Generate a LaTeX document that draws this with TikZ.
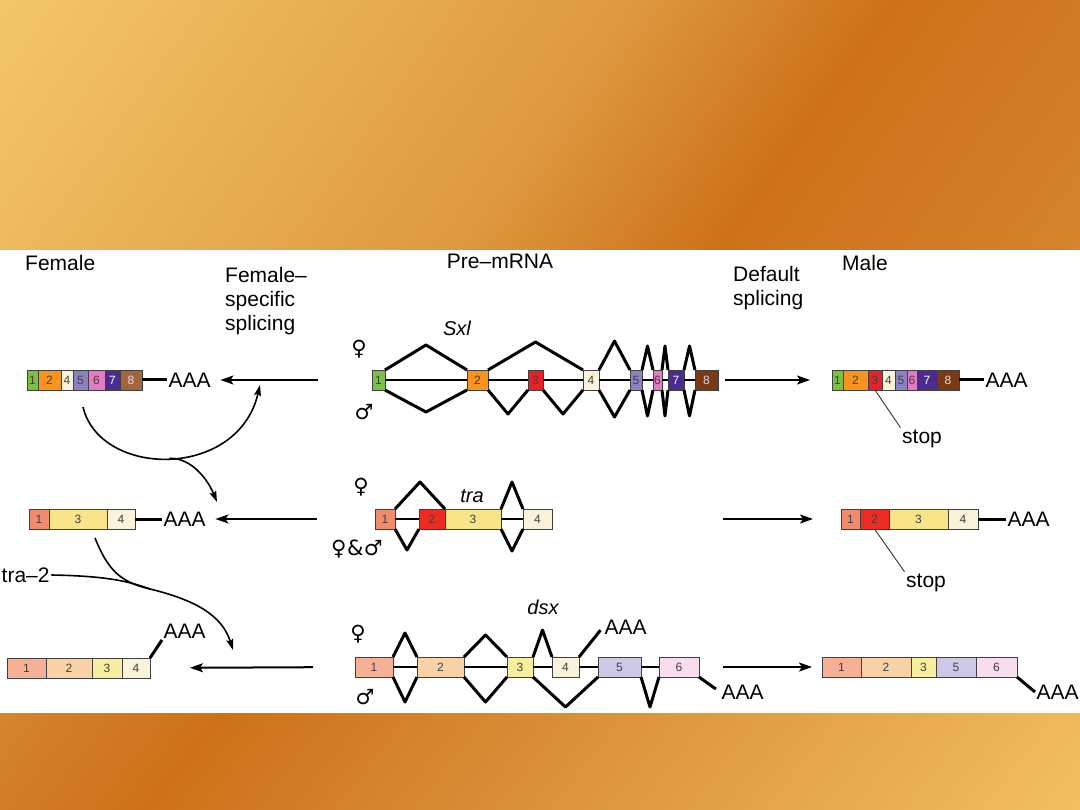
\documentclass[tikz,border=0pt]{standalone}
\usepackage{fontspec}
\setmainfont{Liberation Sans}
\newfontfamily\symfont{DejaVu Sans}
\usetikzlibrary{arrows.meta, positioning, calc}

\definecolor{bandlight}{HTML}{F4C76B}
\definecolor{bandmid}{HTML}{DE993F}
\definecolor{banddark}{HTML}{CD7119}
\definecolor{bandend}{HTML}{D5842E}
\definecolor{bandlow}{HTML}{DA8F38}
\definecolor{bandpale}{HTML}{F2BF60}
\definecolor{sxlgreen}{HTML}{7CC043}
\definecolor{sxlorange}{HTML}{F7931E}
\definecolor{sxlred}{HTML}{E8202A}
\definecolor{excream}{HTML}{FBF2DA}
\definecolor{sxllav}{HTML}{8B80C6}
\definecolor{sxlpink}{HTML}{E47BC2}
\definecolor{sxlpurple}{HTML}{4A2B8F}
\definecolor{sxlbrown}{HTML}{7A3A16}
\definecolor{sxlbrownlt}{HTML}{A2653F}
\definecolor{trasalmon}{HTML}{F28A6C}
\definecolor{trared}{HTML}{EC2B22}
\definecolor{trayellow}{HTML}{F9E48A}
\definecolor{dsxone}{HTML}{F6B095}
\definecolor{dsxtwo}{HTML}{F9D2A8}
\definecolor{dsxthree}{HTML}{F8EEA0}
\definecolor{dsxfive}{HTML}{CEC8E6}
\definecolor{dsxsix}{HTML}{F8DDEE}

\pgfdeclarehorizontalshading{topband}{100bp}{color(0bp)=(bandlight); color(26bp)=(bandlight); color(50bp)=(bandmid); color(60bp)=(banddark); color(74bp)=(bandend); color(100bp)=(bandend)}
\pgfdeclarehorizontalshading{lowband}{100bp}{color(0bp)=(bandend); color(29bp)=(bandend); color(37bp)=(banddark); color(50bp)=(bandlow); color(71bp)=(bandpale); color(100bp)=(bandpale)}

\begin{document}
\begin{tikzpicture}[x=1pt, y=-1pt,
  exon/.style={draw=black!75, line width=0.9pt, minimum height=20pt, inner sep=0pt,
               outer sep=0pt, font=\fontsize{12}{12}\selectfont, text=black!75},
  lbl/.style={font=\fontsize{21}{24}\selectfont, inner sep=1.5pt},
  gene/.style={font=\fontsize{20}{24}\selectfont\itshape, inner sep=1.5pt},
  sex/.style={font=\symfont\fontsize{21}{24}\selectfont, inner sep=0pt},
  intron/.style={line width=1.3pt},
  splice/.style={line width=3pt, line join=round},
  tail/.style={line width=3pt},
  flow/.style={line width=2pt, -{Stealth[length=13pt, width=9pt, inset=3pt]}},
  curve/.style={line width=1.6pt},
  feed/.style={curve, -{Stealth[length=11pt, width=7pt, inset=2pt]}},
  pointer/.style={line width=0.9pt, black!80}]

  \useasboundingbox (0,0) rectangle (1080,810);

  % slide background
  \begin{scope}
    \clip (0,0) rectangle (1080,250);
    \shade[shading=topband, shading angle=-35.4] (0,-415) rectangle (1080,665);
  \end{scope}
  \begin{scope}
    \clip (0,713) rectangle (1080,810);
    \shade[shading=lowband, shading angle=-38.1] (0,221.5) rectangle (1080,1301.5);
  \end{scope}
  \fill[white] (0,250) rectangle (1080,713);

  % column heads
  \node[lbl, anchor=base west] (female) at (23.5,271) {Female};
  \node[lbl, anchor=north west, align=left] (fsplice) at (223.5,266) {Female--\\specific\\splicing};
  \node[lbl, anchor=base] (premrna) at (500,269) {Pre--mRNA};
  \node[lbl, anchor=north west, align=left] (dsplice) at (731.5,265) {Default\\splicing};
  \node[lbl, anchor=base west] (male) at (840.5,271) {Male};

  % Sxl pre-mRNA
  \node[gene, anchor=base] (sxl) at (457,336) {Sxl};
  \node[sex] (sxlf) at (359,349) {♀};
  \node[sex] (sxlm) at (364,412) {♂};
  \node[exon, fill=sxlgreen, minimum width=13pt, anchor=west] (sp1) at (372,380) {1};
  \node[exon, fill=sxlorange, minimum width=21pt, right=82pt of sp1] (sp2) {2};
  \node[exon, fill=sxlred, minimum width=15pt, right=40pt of sp2] (sp3) {3};
  \node[exon, fill=excream, minimum width=16pt, right=40pt of sp3] (sp4) {4};
  \node[exon, fill=sxllav, minimum width=12pt, right=31pt of sp4] (sp5) {5};
  \node[exon, fill=sxlpink, minimum width=9pt, right=11pt of sp5] (sp6) {6};
  \node[exon, fill=sxlpurple, text=white, minimum width=16pt, right=6pt of sp6] (sp7) {7};
  \node[exon, fill=sxlbrown, text=white!85!black, minimum width=23pt, right=11pt of sp7] (sp8) {8};

  \draw[intron] (sp1.east) -- (sp2.west);
  \draw[intron] (sp2.east) -- (sp3.west);
  \draw[intron] (sp3.east) -- (sp4.west);
  \draw[intron] (sp4.east) -- (sp5.west);
  \draw[intron] (sp5.east) -- (sp6.west);
  \draw[intron] (sp6.east) -- (sp7.west);
  \draw[intron] (sp7.east) -- (sp8.west);

  \draw[splice] (sp1.north east) -- ++(41,-25) -- (sp2.north west);
  \draw[splice] (sp2.north east) -- ++(47.5,-28) -- (sp4.north west);
  \draw[splice] (sp4.north east) -- ++(15.5,-29) -- (sp5.north west);
  \draw[splice] (sp5.north east) -- ++(5.5,-24) -- (sp6.north west);
  \draw[splice] (sp6.north east) -- ++(3,-24) -- (sp7.north west);
  \draw[splice] (sp7.north east) -- ++(5.5,-24) -- (sp8.north west);
  \draw[splice] (sp1.south east) -- ++(41,22) -- (sp2.south west);
  \draw[splice] (sp2.south east) -- ++(20,24) -- (sp3.south west);
  \draw[splice] (sp3.south east) -- ++(20,24) -- (sp4.south west);
  \draw[splice] (sp4.south east) -- ++(15.5,27) -- (sp5.south west);
  \draw[splice] (sp5.south east) -- ++(5.5,26) -- (sp6.south west);
  \draw[splice] (sp6.south east) -- ++(3,26) -- (sp7.south west);
  \draw[splice] (sp7.south east) -- ++(5.5,26) -- (sp8.south west);

  % Sxl female mRNA
  \node[exon, fill=sxlgreen, minimum width=11pt, anchor=west] (sf1) at (27,380) {1};
  \node[exon, fill=sxlorange, minimum width=23pt, right=0pt of sf1] (sf2) {2};
  \node[exon, fill=excream, minimum width=12pt, right=0pt of sf2] (sf4) {4};
  \node[exon, fill=sxllav, minimum width=15pt, right=0pt of sf4] (sf5) {5};
  \node[exon, fill=sxlpink, minimum width=17pt, right=0pt of sf5] (sf6) {6};
  \node[exon, fill=sxlpurple, text=white, minimum width=15pt, right=0pt of sf6] (sf7) {7};
  \node[exon, fill=sxlbrownlt, text=white!85!black, minimum width=22pt, right=0pt of sf7] (sf8) {8};
  \node[lbl, anchor=west] (sfa) at (167,380) {AAA};
  \draw[tail] (sf8.east) -- (sfa.west);

  % Sxl male mRNA
  \node[exon, fill=sxlgreen, minimum width=11pt, anchor=west] (sm1) at (832,380) {1};
  \node[exon, fill=sxlorange, minimum width=25pt, right=0pt of sm1] (sm2) {2};
  \node[exon, fill=sxlred, minimum width=14pt, right=0pt of sm2] (sm3) {3};
  \node[exon, fill=excream, minimum width=13pt, right=0pt of sm3] (sm4) {4};
  \node[exon, fill=sxllav, minimum width=12pt, right=0pt of sm4] (sm5) {5};
  \node[exon, fill=sxlpink, minimum width=10pt, right=0pt of sm5] (sm6) {6};
  \node[exon, fill=sxlpurple, text=white, minimum width=20pt, right=0pt of sm6] (sm7) {7};
  \node[exon, fill=sxlbrown, text=white!85!black, minimum width=22pt, right=0pt of sm7] (sm8) {8};
  \node[lbl, anchor=west] (sma) at (984,380) {AAA};
  \draw[tail] (sm8.east) -- (sma.west);
  \node[lbl, anchor=base west] (stop1) at (900.5,443) {stop};
  \draw[pointer] (sm3.south) -- (stop1.north west);

  \draw[flow, shorten <=54pt, shorten >=8pt] (sp1.west) -- (sfa.east);
  \draw[flow, shorten <=7pt, shorten >=22pt] (sp8.east) -- (sm1.west);

  % tra pre-mRNA
  \node[gene, anchor=base] (tra) at (472,502) {tra};
  \node[sex] (traf) at (361,487) {♀};
  \node[sex] (trafm) at (357,549) {♀\kern0.5pt\&\kern0.5pt♂};
  \node[exon, fill=trasalmon, minimum width=20pt, anchor=west] (tp1) at (375,519) {1};
  \node[exon, fill=trared, minimum width=26pt, right=24pt of tp1] (tp2) {2};
  \node[exon, fill=trayellow, minimum width=56pt, right=0pt of tp2] (tp3) {3};
  \node[exon, fill=excream, minimum width=29pt, right=22pt of tp3] (tp4) {4};

  \draw[intron] (tp1.east) -- (tp2.west);
  \draw[intron] (tp3.east) -- (tp4.west);

  \draw[splice] (tp1.north east) -- ++(25,-27) -- (tp3.north west);
  \draw[splice] (tp3.north east) -- ++(11,-27) -- (tp4.north west);
  \draw[splice] (tp1.south east) -- ++(12,21) -- (tp2.south west);
  \draw[splice] (tp3.south east) -- ++(11,22) -- (tp4.south west);

  % tra female mRNA
  \node[exon, fill=trasalmon, minimum width=20pt, anchor=west] (tf1) at (29,519) {1};
  \node[exon, fill=trayellow, minimum width=58pt, right=0pt of tf1] (tf3) {3};
  \node[exon, fill=excream, minimum width=28pt, right=0pt of tf3] (tf4) {4};
  \node[lbl, anchor=west] (tfa) at (162,519) {AAA};
  \draw[tail] (tf4.east) -- (tfa.west);

  % tra male mRNA
  \node[exon, fill=trasalmon, minimum width=19pt, anchor=west] (tm1) at (841,519) {1};
  \node[exon, fill=trared, minimum width=29pt, right=0pt of tm1] (tm2) {2};
  \node[exon, fill=trayellow, minimum width=59pt, right=0pt of tm2] (tm3) {3};
  \node[exon, fill=excream, minimum width=30pt, right=0pt of tm3] (tm4) {4};
  \node[lbl, anchor=west] (tma) at (1006,519) {AAA};
  \draw[tail] (tm4.east) -- (tma.west);
  \node[lbl, anchor=base west] (stop2) at (904.5,587) {stop};
  \draw[pointer] (tm2.south) -- (stop2.north west);

  \draw[flow, shorten <=58pt, shorten >=8pt] (tp1.west) -- (tfa.east);
  \draw[flow, shorten <=171pt, shorten >=28pt] (tp4.east) -- (tm1.west);

  % dsx pre-mRNA
  \node[gene, anchor=base] (dsx) at (543,614) {dsx};
  \node[sex] (dsxf) at (358,634) {♀};
  \node[sex] (dsxm) at (365,697) {♂};
  \node[exon, fill=dsxone, minimum width=38pt, anchor=west] (dp1) at (355,667) {1};
  \node[exon, fill=dsxtwo, minimum width=47pt, right=24pt of dp1] (dp2) {2};
  \node[exon, fill=dsxthree, minimum width=26pt, right=43pt of dp2] (dp3) {3};
  \node[exon, fill=excream, minimum width=27pt, right=19pt of dp3] (dp4) {4};
  \node[exon, fill=dsxfive, minimum width=43pt, right=19pt of dp4] (dp5) {5};
  \node[exon, fill=dsxsix, minimum width=40pt, right=18pt of dp5] (dp6) {6};
  \node[lbl, anchor=west] (dpa1) at (603,627) {AAA};
  \node[lbl, anchor=west] (dpa2) at (720,692) {AAA};

  \draw[intron] (dp1.east) -- (dp2.west);
  \draw[intron] (dp2.east) -- (dp3.west);
  \draw[intron] (dp3.east) -- (dp4.west);
  \draw[intron] (dp4.east) -- (dp5.west);
  \draw[intron] (dp5.east) -- (dp6.west);

  \draw[splice] (dp1.north east) -- ++(12,-24) -- (dp2.north west);
  \draw[splice] (dp2.north east) -- ++(21.5,-22) -- (dp3.north west);
  \draw[splice] (dp3.north east) -- ++(9.5,-27) -- (dp4.north west);
  \draw[splice, shorten >=4pt] (dp4.north east) -- (dpa1.west);
  \draw[splice] (dp1.south east) -- ++(12,25) -- (dp2.south west);
  \draw[splice] (dp2.south east) -- ++(21.5,25) -- (dp3.south west);
  \draw[splice] (dp3.south east) -- ++(32.5,30) -- (dp5.south west);
  \draw[splice] (dp5.south east) -- ++(9,30) -- (dp6.south west);
  \draw[splice, shorten >=5pt] (dp6.south east) -- (dpa2.west);

  % dsx female mRNA
  \node[exon, fill=dsxone, minimum width=39pt, anchor=west] (df1) at (7,668) {1};
  \node[exon, fill=dsxtwo, minimum width=46pt, right=0pt of df1] (df2) {2};
  \node[exon, fill=dsxthree, minimum width=30pt, right=0pt of df2] (df3) {3};
  \node[exon, fill=excream, minimum width=28pt, right=0pt of df3] (df4) {4};
  \node[lbl, anchor=west] (dfa) at (162,631) {AAA};
  \draw[tail] (df4.north east) -- (dfa.south west);

  % dsx male mRNA
  \node[exon, fill=dsxone, minimum width=39pt, anchor=west] (dm1) at (822,667) {1};
  \node[exon, fill=dsxtwo, minimum width=50pt, right=0pt of dm1] (dm2) {2};
  \node[exon, fill=dsxthree, minimum width=25pt, right=0pt of dm2] (dm3) {3};
  \node[exon, fill=dsxfive, minimum width=40pt, right=0pt of dm3] (dm5) {5};
  \node[exon, fill=dsxsix, minimum width=41pt, right=0pt of dm5] (dm6) {6};
  \node[lbl, anchor=west] (dma) at (1035,692) {AAA};
  \draw[tail] (dm6.south east) -- (dma.west);

  \draw[flow, shorten <=42pt, shorten >=40pt] (dp1.west) -- (df4.east);
  \draw[flow, shorten <=24pt, shorten >=10pt] (dp6.east) -- (dm1.west);

  % regulatory cascade
  \coordinate (sxlstart) at (83,407);
  \coordinate (sxlhit) at (260,385);
  \coordinate (trahit) at (217,502);
  \coordinate (tra2start) at (95,538);
  \coordinate (merge) at (150,589);
  \coordinate (dsxhit) at (233,650);
  \node[lbl, anchor=west] (tra2) at (0,575) {tra--2};

  \draw[feed] (sxlstart) .. controls (100,478) and (238,480) .. (sxlhit) coordinate[pos=.5] (sxlbot);
  \draw[feed] (sxlbot) .. controls (192,458) and (208,480) .. (trahit);
  \draw[feed] (tra2start) .. controls (108,570) and (120,582) .. (merge)
              .. controls (195,600) and (222,615) .. (dsxhit);
  \draw[curve] (tra2.east) .. controls (110,576) and (130,582) .. (merge);
\end{tikzpicture}
\end{document}
